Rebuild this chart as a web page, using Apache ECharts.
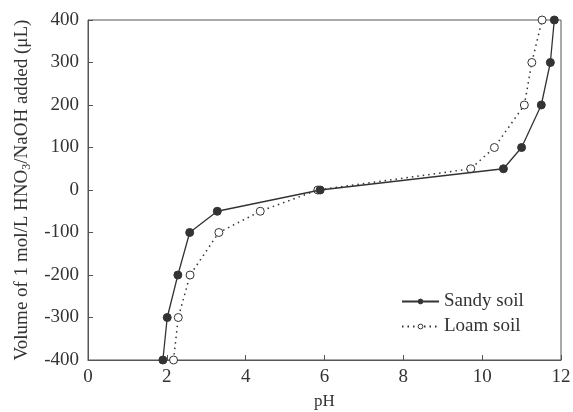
<!DOCTYPE html>
<html>
<head>
<meta charset="utf-8">
<script src="https://cdn.jsdelivr.net/npm/echarts@6/dist/echarts.min.js"></script>
<style>
  html, body { margin: 0; padding: 0; background: #fff; }
  #chart { width: 573px; height: 412px; }
</style>
</head>
<body>
<div id="chart"></div>
<script>
// volumes added (µL), same for both soils
const volume = [-400, -300, -200, -100, -50, 0, 50, 100, 200, 300, 400];
// pH
const sandyPH = [1.90, 2.01, 2.28, 2.58, 3.28, 5.89, 10.54, 11.0, 11.5, 11.73, 11.83];
const loamPH = [2.17, 2.29, 2.59, 3.32, 4.37, 5.83, 9.71, 10.31, 11.07, 11.26, 11.52];

const xTicks = [0, 2, 4, 6, 8, 10, 12];
const yTicks = [-400, -300, -200, -100, 0, 100, 200, 300, 400];

const ink = '#333';
const font = '"Liberation Serif", "Times New Roman", serif';

const chart = echarts.init(document.getElementById('chart'));

const option = {
  animation: false,
  textStyle: { fontFamily: font, color: ink },
  grid: {
    left: 88, right: 12, top: 20, bottom: 52,
    outerBoundsMode: 'none',
    containLabel: false,
    show: true, borderColor: '#555', borderWidth: 1
  },
  legend: {
    orient: 'vertical',
    left: 396, top: 287,
    itemWidth: 37, itemHeight: 6, itemGap: 6,
    itemStyle: { borderWidth: 1 },
    textStyle: { fontFamily: font, fontSize: 19, color: ink },
    data: ['Sandy soil', 'Loam soil']
  },
  xAxis: {
    type: 'value',
    min: xTicks[0], max: xTicks[xTicks.length - 1], interval: 2,
    name: 'pH',
    nameLocation: 'middle',
    nameGap: 33,
    nameTextStyle: { fontFamily: font, fontSize: 17, color: ink },
    axisLine: { onZero: false, lineStyle: { color: '#555' } },
    axisTick: { inside: true, length: 5, lineStyle: { color: '#555' } },
    axisLabel: { fontFamily: font, fontSize: 19, color: ink, margin: 8 },
    splitLine: { show: false }
  },
  yAxis: {
    type: 'value',
    min: yTicks[0], max: yTicks[yTicks.length - 1], interval: 100,
    name: 'Volume of 1 mol/L HNO{sub|3}/NaOH added (μL)',
    nameLocation: 'middle',
    nameGap: 52,
    nameTextStyle: {
      fontFamily: font, fontSize: 19, color: ink,
      rich: {
        sub: { fontFamily: font, fontSize: 12, color: ink, verticalAlign: 'bottom', padding: [10, 0, 0, 0] }
      }
    },
    axisLine: { show: true, onZero: false, lineStyle: { color: '#555' } },
    axisTick: { show: true, inside: true, length: 5, lineStyle: { color: '#555' } },
    axisLabel: { fontFamily: font, fontSize: 19, color: ink, margin: 9 },
    splitLine: { show: false }
  },
  series: [
    {
      name: 'Sandy soil',
      type: 'line',
      data: sandyPH.map((p, i) => [p, volume[i]]),
      symbol: 'circle',
      symbolSize: 8,
      itemStyle: { color: ink, borderColor: ink },
      lineStyle: { color: ink, width: 1.3, type: 'solid' },
      z: 3
    },
    {
      name: 'Loam soil',
      type: 'line',
      data: loamPH.map((p, i) => [p, volume[i]]),
      symbol: 'circle',
      symbolSize: 8,
      itemStyle: { color: '#fff', borderColor: ink, borderWidth: 1 },
      lineStyle: { color: ink, width: 1.5, type: [1.5, 4] },
      z: 2
    }
  ]
};

chart.setOption(option);
</script>
</body>
</html>
